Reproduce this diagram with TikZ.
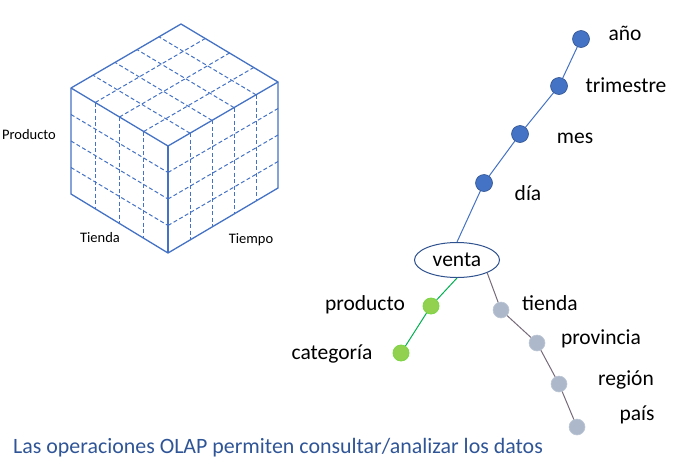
\documentclass[tikz,border=0pt]{standalone}
\usepackage{fontspec}
\setmainfont{Carlito}
\usetikzlibrary{shapes.geometric}

\definecolor{cubeblue}{HTML}{4472C4}
\definecolor{factblue}{HTML}{2F528F}
\definecolor{timefill}{HTML}{4472C4}
\definecolor{prodfill}{HTML}{92D050}
\definecolor{prodline}{HTML}{00B050}
\definecolor{placefill}{HTML}{ADB9CA}
\definecolor{placeline}{HTML}{76697A}
\definecolor{captionblue}{HTML}{2F5597}

\begin{document}
\begin{tikzpicture}[
  x=1pt, y=-1pt,
  every node/.style={font=\fontsize{21.5}{25}\selectfont, inner sep=0pt},
  level-name/.style={anchor=base},
  axis-name/.style={anchor=base, font=\fontsize{14.5}{17}\selectfont},
  edge/.style={draw=cubeblue, line width=1.3pt, line join=round},
  grid/.style={draw=cubeblue, line width=1pt, dash pattern=on 4pt off 2.5pt},
  fact/.style={draw=factblue, ellipse, fill=white, line width=1pt, minimum width=85pt, minimum height=35pt},
  time-level/.style={circle, fill=timefill, draw=factblue, line width=0.6pt, minimum size=17pt},
  prod-level/.style={circle, fill=prodfill, draw=prodfill!85!green, line width=0.8pt, minimum size=16pt},
  place-level/.style={circle, fill=placefill, draw=placefill!80!white, line width=0.6pt, minimum size=16pt},
  time-link/.style={draw=cubeblue, line width=1pt},
  prod-link/.style={draw=prodline, line width=1pt},
  place-link/.style={draw=placeline, line width=1pt}]

  \useasboundingbox (0,0) rectangle (677,469);

  % dashed grid of the cube
  \foreach \i in {1,2,3} {
    \draw[grid] ({71+97*\i/4},{88+58*\i/4}) -- ++(0,106);
    \draw[grid] (71,{88+106*\i/4}) -- ++(97,58);
    \draw[grid] ({71+97*\i/4},{88+58*\i/4}) -- ++(110,-64);
    \draw[grid] (168,{146+106*\i/4}) -- ++(110,-64);
  }
  \foreach \i in {1,...,4} {
    \draw[grid] ({168+110*\i/5},{146-64*\i/5}) -- ++(0,106);
    \draw[grid] ({168+110*\i/5},{146-64*\i/5}) -- ++(-97,-58);
  }

  % cube edges
  \draw[edge] (71,88) -- (181,24) -- (278,82) -- (278,188) -- (168,253) -- (71,194) -- cycle;
  \draw[edge] (71,88) -- (168,146) -- (278,82);
  \draw[edge] (168,146) -- (168,253);

  % cube axes
  \node[axis-name] (producto-axis) at (29,139) {Producto};
  \node[axis-name] (tienda-axis) at (100,242) {Tienda};
  \node[axis-name] (tiempo-axis) at (251,243) {Tiempo};

  % fact and dimension levels
  \node[fact] (venta) at (457,260) {venta};

  \node[time-level] (anio) at (581,39) {};
  \node[time-level] (trimestre) at (559,86) {};
  \node[time-level] (mes) at (520,134) {};
  \node[time-level] (dia) at (484,183) {};

  \node[prod-level] (producto) at (431,306) {};
  \node[prod-level] (categoria) at (401,353) {};

  \node[place-level] (tienda) at (501,310) {};
  \node[place-level] (provincia) at (537,343) {};
  \node[place-level] (region) at (559,384) {};
  \node[place-level] (pais) at (577,427) {};

  % hierarchies
  \draw[time-link] (anio) -- (trimestre) -- (mes) -- (dia) -- (venta.north);
  \draw[prod-link] (venta.south) -- (producto) -- (categoria);
  \draw[place-link] (venta.-23) -- (tienda) -- (provincia) -- (region) -- (pais);

  % level names
  \node[level-name] (anio-label) at (625,40) {año};
  \node[level-name] (trimestre-label) at (626,92) {trimestre};
  \node[level-name] (mes-label) at (575,143) {mes};
  \node[level-name] (dia-label) at (528,200) {día};
  \node[level-name] (producto-label) at (365,310) {producto};
  \node[level-name] (categoria-label) at (332,359) {categoría};
  \node[level-name] (tienda-label) at (550,310) {tienda};
  \node[level-name] (provincia-label) at (601,344) {provincia};
  \node[level-name] (region-label) at (626,385) {región};
  \node[level-name] (pais-label) at (637,420) {país};

  \node[anchor=base west, text=captionblue, font=\fontsize{21.9}{26}\selectfont] (caption) at (13,453)
    {Las operaciones OLAP permiten consultar/analizar los datos};

\end{tikzpicture}
\end{document}
